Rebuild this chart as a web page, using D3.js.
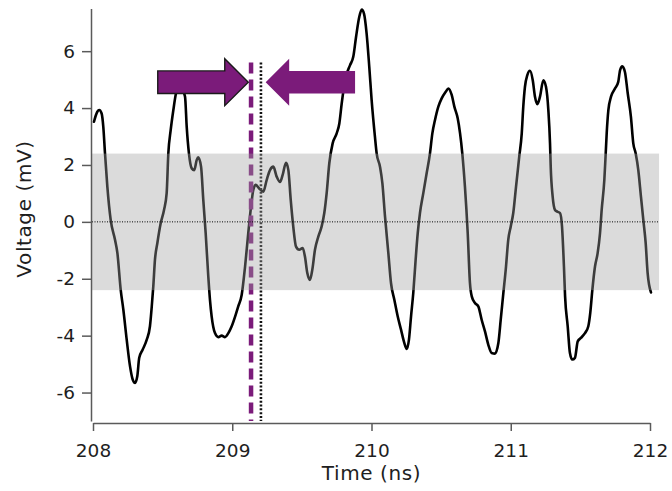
<!DOCTYPE html>
<html>
<head>
<meta charset="utf-8">
<script src="https://cdn.jsdelivr.net/npm/d3@7"></script>
<style>
  html, body { margin: 0; padding: 0; background: #fff; }
  svg { display: block; font-family: "DejaVu Sans", sans-serif; }
</style>
</head>
<body>
<svg id="chart" width="672" height="491"></svg>
<script>
// Recorded waveform: time in ns, voltage in mV
const timeNs = [
  208.007, 208.031, 208.045, 208.062, 208.074, 208.086, 208.103, 208.127, 208.158, 208.175,
  208.199, 208.218, 208.242, 208.266, 208.285, 208.302, 208.318, 208.332, 208.357, 208.386,
  208.409, 208.422, 208.433, 208.445, 208.462, 208.486, 208.510, 208.529, 208.541, 208.558,
  208.577, 208.596, 208.625, 208.646, 208.661, 208.673, 208.689, 208.709, 208.727, 208.745,
  208.756, 208.776, 208.792, 208.809, 208.828, 208.840, 208.852, 208.876, 208.900, 208.924,
  208.948, 208.972, 208.996, 209.025, 209.043, 209.068, 209.092, 209.115, 209.135, 209.151,
  209.168, 209.192, 209.223, 209.247, 209.271, 209.295, 209.319, 209.343, 209.362, 209.386,
  209.403, 209.420, 209.438, 209.458, 209.481, 209.506, 209.522, 209.539, 209.558, 209.575,
  209.594, 209.618, 209.642, 209.661, 209.678, 209.697, 209.721, 209.750, 209.769, 209.786,
  209.810, 209.846, 209.869, 209.889, 209.912, 209.930, 209.946, 209.965, 209.984, 210.001,
  210.025, 210.037, 210.061, 210.078, 210.097, 210.121, 210.140, 210.164, 210.188, 210.212,
  210.236, 210.253, 210.269, 210.284, 210.300, 210.317, 210.332, 210.348, 210.372, 210.396,
  210.420, 210.437, 210.456, 210.480, 210.504, 210.533, 210.552, 210.576, 210.595, 210.619,
  210.636, 210.652, 210.671, 210.691, 210.707, 210.720, 210.743, 210.767, 210.791, 210.815,
  210.839, 210.863, 210.887, 210.911, 210.928, 210.947, 210.966, 210.982, 211.000, 211.018,
  211.038, 211.061, 211.079, 211.090, 211.102, 211.119, 211.138, 211.158, 211.174, 211.191,
  211.210, 211.234, 211.253, 211.270, 211.282, 211.287, 211.301, 211.318, 211.334, 211.354,
  211.368, 211.382, 211.390, 211.409, 211.425, 211.442, 211.461, 211.481, 211.504, 211.533,
  211.557, 211.571, 211.586, 211.605, 211.624, 211.641, 211.653, 211.672, 211.682, 211.689,
  211.701, 211.720, 211.749, 211.772, 211.785, 211.801, 211.820, 211.840, 211.863, 211.880,
  211.897, 211.916, 211.935, 211.952, 211.969, 211.983, 212.007
];
const voltageMv = [
  3.52, 3.87, 3.93, 3.81, 3.34, 2.42, 1.24, 0.07, -0.63, -1.09,
  -2.39, -3.09, -4.14, -5.08, -5.54, -5.66, -5.43, -4.78, -4.49, -4.14,
  -3.67, -2.97, -2.27, -1.33, -0.75, -0.05, 0.42, 1.01, 2.41, 3.23,
  3.93, 4.52, 4.85, 4.60, 4.40, 3.34, 2.41, 1.88, 1.82, 2.18,
  2.27, 1.94, 0.77, -0.39, -1.92, -2.74, -3.32, -3.91, -4.05, -4.00,
  -4.05, -3.91, -3.67, -3.26, -2.97, -2.56, -1.57, -0.40, 0.54, 1.12,
  1.30, 1.18, 1.06, 1.47, 1.82, 1.94, 1.59, 1.40, 1.65, 2.08,
  1.82, 0.77, -0.16, -0.87, -0.98, -0.92, -1.22, -1.80, -2.04, -1.68,
  -0.98, -0.52, -0.16, 0.31, 1.01, 2.06, 2.76, 3.11, 3.46, 4.16,
  4.98, 5.51, 5.80, 6.50, 7.20, 7.46, 7.32, 6.62, 5.45, 4.28,
  2.98, 2.41, 1.94, 1.36, 0.19, -1.10, -2.15, -2.74, -3.32, -3.79,
  -4.26, -4.47, -4.14, -3.32, -2.50, -1.33, -0.40, 0.31, 1.01, 1.71,
  2.41, 3.11, 3.58, 4.05, 4.34, 4.57, 4.69, 4.46, 4.05, 3.64,
  3.11, 2.41, 1.24, -0.40, -2.15, -2.62, -2.85, -2.97, -3.44, -3.85,
  -4.32, -4.61, -4.63, -4.26, -3.44, -2.50, -1.57, -0.63, -0.16, 0.31,
  1.24, 2.29, 3.11, 4.05, 4.75, 5.16, 5.31, 4.98, 4.40, 4.14,
  4.40, 4.98, 4.75, 3.93, 2.76, 1.94, 0.89, 0.42, 0.36, 0.31,
  -0.16, -1.57, -2.60, -3.67, -4.61, -4.84, -4.78, -4.20, -4.08, -3.91,
  -3.67, -3.20, -2.39, -1.57, -1.10, -0.40, 0.42, 1.47, 2.41, 3.11,
  3.93, 4.40, 4.69, 4.92, 5.33, 5.47, 5.27, 4.52, 3.69, 2.76,
  2.41, 1.82, 0.89, 0.07, -0.75, -1.80, -2.48
];

// Axis ticks
const xTicks = [208, 209, 210, 211, 212];
const yTicks = [-6, -4, -2, 0, 2, 4, 6];

// Shaded threshold band (mV) and its time extent (ns)
const bandMv = [-2.4, 2.4];
const bandNs = [207.993, 212.065];

// Vertical markers (ns): dashed purple and dotted black
const dashedMarkerNs = [209.135];
const dottedMarkerNs = [209.206];
const markerTopMv = 5.6;

// Arrows: tail and tip times (ns) at a common voltage level (mV)
const arrowTailNs = [208.465, 209.882];
const arrowTipNs = [209.115, 209.240];
const arrowLevelMv = 4.91;

const svg = d3.select("#chart");
const x = d3.scaleLinear().domain([208, 212]).range([93, 650]);
const y = d3.scaleLinear().domain([-7, 7.5]).range([421, 8.5]);

const purple = "#7b1b7a";
const textColor = "#1e1e1e";
const axisColor = "#5a5a5a";

// Waveform
svg.append("path")
  .datum(d3.zip(timeNs, voltageMv))
  .attr("fill", "none")
  .attr("stroke", "#000")
  .attr("stroke-width", 2.6)
  .attr("stroke-linejoin", "round")
  .attr("stroke-linecap", "round")
  .attr("d", d3.line().x(d => x(d[0])).y(d => y(d[1])).curve(d3.curveMonotoneX));

// Markers
svg.selectAll(".dashed").data(dashedMarkerNs).join("line")
  .attr("x1", d => x(d)).attr("x2", d => x(d))
  .attr("y1", y(markerTopMv)).attr("y2", y(-7))
  .attr("stroke", purple).attr("stroke-width", 4.5)
  .attr("stroke-dasharray", "11,6");

svg.selectAll(".dotted").data(dottedMarkerNs).join("line")
  .attr("x1", d => x(d)).attr("x2", d => x(d))
  .attr("y1", y(markerTopMv)).attr("y2", y(-7))
  .attr("stroke", "#111").attr("stroke-width", 2.6)
  .attr("stroke-dasharray", "2,1.8");

// Translucent band laid over the trace
svg.append("rect")
  .attr("x", x(bandNs[0])).attr("width", x(bandNs[1]) - x(bandNs[0]))
  .attr("y", y(bandMv[1])).attr("height", y(bandMv[0]) - y(bandMv[1]))
  .attr("fill", "#a0a0a0").attr("fill-opacity", 0.38);

// Zero line
svg.append("line")
  .attr("x1", x(bandNs[0])).attr("x2", x(bandNs[1]))
  .attr("y1", y(0)).attr("y2", y(0))
  .attr("stroke", "#000").attr("stroke-width", 1)
  .attr("stroke-dasharray", "1,1.5");

// Block arrows
const bodyHalf = 11.3, headHalf = 23.5, headLen = 23.5;
arrowTailNs.forEach((tail, i) => {
  const x0 = x(tail), x1 = x(arrowTipNs[i]), yc = y(arrowLevelMv);
  const dir = Math.sign(x1 - x0);
  const xb = x1 - dir * headLen;
  const pts = [
    [x0, yc - bodyHalf], [xb, yc - bodyHalf], [xb, yc - headHalf], [x1, yc],
    [xb, yc + headHalf], [xb, yc + bodyHalf], [x0, yc + bodyHalf]
  ];
  svg.append("path")
    .attr("d", d3.line()(pts) + "Z")
    .attr("fill", purple)
    .attr("stroke", i === 0 ? "#1a1a1a" : "none")
    .attr("stroke-width", 1.4)
    .attr("stroke-linejoin", "miter");
});

// Axes (plain hyphen for negatives, integer labels)
const plain = d => String(d);
const yAxis = svg.append("g")
  .attr("transform", "translate(91,0)")
  .call(d3.axisLeft(y).tickValues(yTicks).tickFormat(plain)
    .tickSize(9).tickPadding(7).tickSizeOuter(0));
const xAxis = svg.append("g")
  .attr("transform", "translate(0,423)")
  .call(d3.axisBottom(x).tickValues(xTicks).tickFormat(plain)
    .tickSize(8).tickPadding(13).tickSizeOuter(0));

[xAxis, yAxis].forEach(g => {
  g.selectAll("path, line").attr("stroke", axisColor).attr("stroke-width", 1.5);
  g.selectAll("text").attr("fill", textColor)
    .style("font-family", "'DejaVu Sans', sans-serif").style("font-size", "18.5px");
});

// Axis titles
svg.append("text")
  .attr("x", x(210)).attr("y", 480)
  .attr("text-anchor", "middle")
  .attr("fill", textColor)
  .style("font-size", "20px").style("letter-spacing", "0.6px")
  .text("Time (ns)");

svg.append("text")
  .attr("transform", "translate(31,209) rotate(-90)")
  .attr("text-anchor", "middle")
  .attr("fill", textColor)
  .style("font-size", "20px").style("letter-spacing", "0.6px")
  .text("Voltage (mV)");
</script>
</body>
</html>
